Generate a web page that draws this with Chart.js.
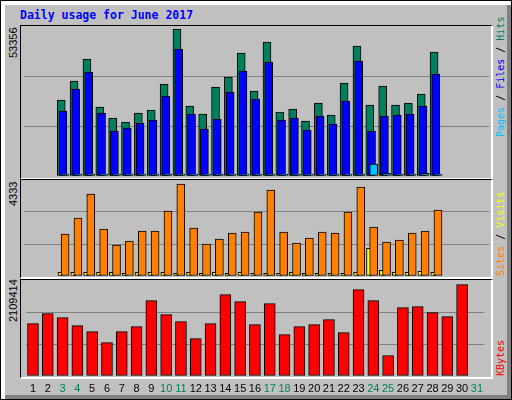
<!DOCTYPE html>
<html lang="en">
<head>
  <meta charset="UTF-8">
  <title>Daily usage for June 2017</title>
  <script src="https://cdn.jsdelivr.net/npm/chart.js"></script>
  <style>
    body { margin: 0; width: 512px; height: 400px; position: relative; overflow: hidden; font-family: "Liberation Sans", Arial, sans-serif; }
    #frame { position: absolute; left: 0; top: 0; width: 510px; height: 398px; border: 1px solid #000; background: #fff; }
    #inner { position: absolute; left: 5px; top: 5px; width: 502px; height: 390px; background: #c0c0c0; border-right: 4px solid #808080; border-bottom: 4px solid #808080; }
    .panel { position: absolute; left: 20px; width: 470px; background: #c0c0c0; border-top: 1px solid #000; border-left: 1px solid #000; border-right: 2px solid #fff; border-bottom: 2px solid #fff; }
    canvas { position: absolute; }
    .rot { position: absolute; transform-origin: 0 0; transform: rotate(-90deg); white-space: nowrap; line-height: 1; }
    .lbl { font-size: 11px; color: #000; }
    .leg { font-family: "DejaVu Sans Mono", monospace; font-size: 10px; color: #000; }
    #title { position: absolute; left: 20px; top: 8px; font-family: "DejaVu Sans Mono", monospace; font-weight: bold; font-size: 11.5px; color: #0000ff; }
  </style>
</head>
<body>
  <div id="frame"></div>
  <div id="inner"></div>
  <div id="title">Daily usage for June 2017</div>
  <div class="panel" style="top:25px;height:152px"></div>
  <div class="panel" style="top:179px;height:97px"></div>
  <div class="panel" style="top:279px;height:97px"></div>

  <canvas id="c1" width="465" height="150" style="left:24px;top:26px"></canvas>
  <canvas id="c2" width="465" height="96" style="left:24px;top:180px"></canvas>
  <canvas id="c3" width="465" height="118" style="left:24px;top:280px"></canvas>

  <div class="rot lbl" style="left:8px;top:58px">53356</div>
  <div class="rot lbl" style="left:8px;top:206px">4333</div>
  <div class="rot lbl" style="left:8px;top:322px">2109414</div>

  <div class="rot leg" style="left:496px;top:137px"><span style="color:#00c0ff">Pages</span> / <span style="color:#0000ff">Files</span> / <span style="color:#00805c">Hits</span></div>
  <div class="rot leg" style="left:496px;top:276px"><span style="color:#ff8000">Sites</span> / <span style="color:#ffff00">Visits</span></div>
  <div class="rot leg" style="left:496px;top:376px"><span style="color:#ff0000">KBytes</span></div>

  <script>
    const days = ["1","2","3","4","5","6","7","8","9","10","11","12","13","14","15","16","17","18","19","20","21","22","23","24","25","26","27","28","29","30","31"];
    const weekend = [3, 4, 10, 11, 17, 18, 24, 25, 31];

    const hits = [27590, 34490, 42470, 25050, 21050, 19600, 22870, 23960, 33400, 53356, 25410, 22510, 32310, 35940, 44650, 30860, 48640, 23230, 24320, 19970, 26500, 22140, 33760, 47190, 25770, 32670, 25770, 26500, 29770, 45010, 0];
    const files = [23600, 31580, 37750, 22870, 16340, 17420, 19240, 20330, 29040, 46100, 22510, 17060, 20690, 30490, 38120, 27950, 41380, 20330, 21050, 16700, 21780, 18880, 27230, 41750, 16340, 21780, 22140, 22510, 25410, 37030, 0];
    const pages = [700, 700, 700, 700, 700, 700, 700, 700, 700, 700, 700, 700, 700, 700, 700, 700, 700, 700, 700, 700, 700, 700, 700, 700, 4360, 1000, 700, 700, 1000, 700, 0];

    const visits = [1970, 2726, 3860, 2207, 1451, 1640, 2112, 2112, 3057, 4333, 2254, 1498, 1734, 2018, 2065, 3010, 4049, 2065, 1545, 1781, 2065, 2018, 3010, 4191, 2301, 1592, 1687, 2018, 2112, 3104, 0];
    const sites = [175, 175, 175, 175, 175, 127, 175, 175, 175, 127, 175, 127, 175, 127, 175, 127, 127, 127, 175, 127, 127, 127, 127, 175, 1309, 269, 175, 175, 222, 175, 0];

    const kbytes = [1208700, 1439600, 1347300, 1162500, 1023900, 769900, 1023900, 1139400, 1739900, 1416500, 1254900, 862200, 1208700, 1878500, 1716800, 1185600, 1670600, 954600, 1139400, 1185600, 1301100, 1000800, 1993900, 1739900, 469600, 1578200, 1601300, 1462700, 1370300, 2109414, 0];

    // webalizer scales the biggest bar slightly below the panel top
    const max1 = 53356 * 150 / 147;
    const max2 = 4333 * 96 / 92;
    const max3 = 2109414 * 96 / 91.3;

    function shifted(vals, off) {
      return vals.map((v, i) => ({ x: i + 1 + off, y: v }));
    }

    function bar(label, data, color, thick) {
      return { label: label, data: data, backgroundColor: color, borderColor: "#000", borderWidth: 1, borderSkipped: false, barThickness: thick };
    }

    function yScale(max) {
      return {
        min: 0, max: max, display: true,
        afterFit: s => { s.width = 0; },
        afterBuildTicks: s => { s.ticks = [0, 1, 2, 3].map(k => ({ value: max * k / 3 })); },
        ticks: { display: false },
        border: { display: false },
        grid: { drawTicks: false, color: c => (c.index === 1 || c.index === 2) ? "#808080" : "rgba(0,0,0,0)" }
      };
    }

    const common = {
      responsive: false, animation: false, devicePixelRatio: 1,
      layout: { padding: 0 },
      plugins: { legend: { display: false }, tooltip: { enabled: false } }
    };

    new Chart(document.getElementById("c1"), {
      type: "bar",
      data: { datasets: [
        bar("Pages", shifted(pages, 0.113), "#00c0ff", 8),
        bar("Files", shifted(files, -0.053), "#0000ff", 8),
        bar("Hits", shifted(hits, -0.187), "#00805c", 8)
      ] },
      options: Object.assign({}, common, {
        datasets: { bar: { grouped: false } },
        scales: { x: { type: "linear", min: 0.5, max: 31.5, display: false }, y: yScale(max1) }
      })
    });

    new Chart(document.getElementById("c2"), {
      type: "bar",
      data: { datasets: [
        bar("Visits", shifted(visits, 0.113), "#ff8000", 8),
        bar("Sites", shifted(sites, -0.25), "#ffff00", 5)
      ] },
      options: Object.assign({}, common, {
        datasets: { bar: { grouped: false } },
        scales: { x: { type: "linear", min: 0.5, max: 31.5, display: false }, y: yScale(max2) }
      })
    });

    new Chart(document.getElementById("c3"), {
      type: "bar",
      data: { labels: days, datasets: [ bar("KBytes", kbytes, "#ff0000", 11) ] },
      options: Object.assign({}, common, {
        scales: {
          x: {
            afterFit: s => { s.height = 22; },
            grid: { display: false, drawTicks: false },
            border: { display: false },
            ticks: {
              padding: 6, autoSkip: false, maxRotation: 0,
              font: { family: "'Liberation Sans', Arial, sans-serif", size: 11 },
              color: c => weekend.includes(c.index + 1) ? "#00805c" : "#000"
            }
          },
          y: yScale(max3)
        }
      })
    });
  </script>
</body>
</html>
